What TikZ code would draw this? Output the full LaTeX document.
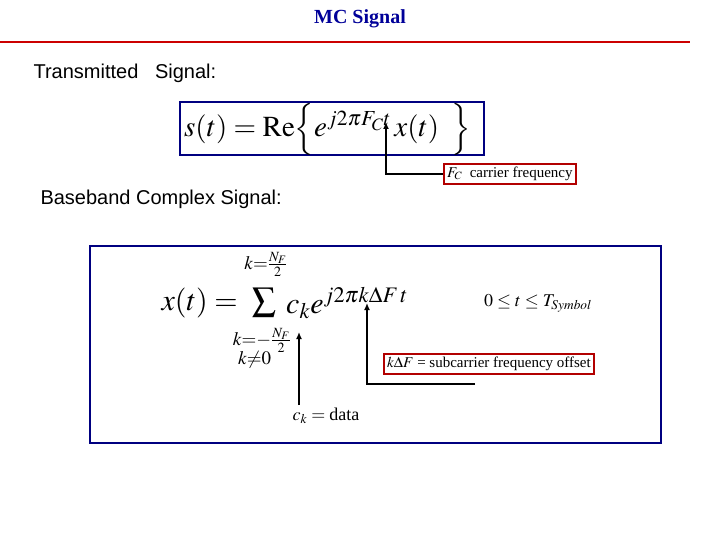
\RequirePackage{fix-cm}
\documentclass[tikz,border=0pt]{standalone}
\usepackage{amsmath,mathtools,graphicx}
\usepackage{mathptmx}
\usepackage{fontspec}
\setmainfont{Liberation Serif}
\newfontfamily\arialf{Liberation Sans}
\usetikzlibrary{arrows.meta}
\begin{document}
\begin{tikzpicture}[x=1pt,y=-1pt,
  bluebox/.style={draw=blue!50!black,line width=2.5pt},
  redbox/.style={draw=red!70!black,line width=2pt,inner sep=3pt},
  arr/.style={line width=1.5pt,-{Latex[length=7pt,width=6pt]}},
  lbl/.style={font=\arialf\fontsize{20}{22}\selectfont,anchor=west},
  lim/.style={font=\fontsize{19}{21}\selectfont,inner sep=0pt}]
\useasboundingbox (0,0) rectangle (720,540);
\fill[white] (0,0) rectangle (720,540);
\node[font=\fontsize{20}{22}\selectfont\bfseries,text=blue!60!black] (title) at (360,19) {MC Signal};
\draw[red!80!black,line width=2.5pt] (0,42) coordinate (l1) -- (690,42) coordinate (l2);
\node[lbl] (t1) at (30,73) {Transmitted\ \ \ Signal:};
\node[lbl] (t2) at (37,199) {Baseband Complex Signal:};
\draw[bluebox] (180,102) rectangle (484,155);
\node[anchor=west,font=\fontsize{29}{31}\selectfont,inner sep=0pt] (sf) at (184,129) {$s(t)=\mathrm{Re}\Big\{e^{j2\pi F_C t}\,x(t)\;\;\Big\}$};
\coordinate (a1) at (386,122);
\node[redbox,font=\fontsize{15}{17}\selectfont,anchor=west] (fc) at (443,174) {$F_C$\ \ carrier frequency};
\draw[arr] (fc.west) -| (a1);
\draw[bluebox] (90,246) rectangle (661,443);
\node[anchor=west,font=\fontsize{30}{32}\selectfont] (xf) at (158,303) {$x(t)=$};
\node[inner sep=0pt] (sig) at (264,302) {\scalebox{3.4}{$\textstyle\sum$}};
\node[lim] (up) at (266,264) {$k{=}\frac{N_F}{2}$};
\node[lim] (lo) at (262,340) {$k{=}{-}\frac{N_F}{2}$};
\node[lim,anchor=west] (ne) at (238,360) {$k{\neq}0$};
\node[anchor=west,font=\fontsize{30}{32}\selectfont,inner sep=0pt] (ce) at (286,303) {$c_k e^{j2\pi k\Delta F\,t}$};
\node[font=\fontsize{18}{20}\selectfont] (rng) at (538,303) {$0\le t\le T_{Symbol}$};
\coordinate (a2) at (299,332);
\node[font=\fontsize{18}{20}\selectfont] (ck) at (326,416) {$c_k=\text{data}$};
\draw[arr] (299,405) coordinate (b2) -- (a2);
\node[redbox,font=\fontsize{15}{17}\selectfont,anchor=west] (kdf) at (383,364) {$k\Delta F$ = subcarrier frequency offset};
\coordinate (e3) at (475,384);
\coordinate (a3) at (367,303);
\draw[arr] (e3) -| (a3);
\end{tikzpicture}
\end{document}
